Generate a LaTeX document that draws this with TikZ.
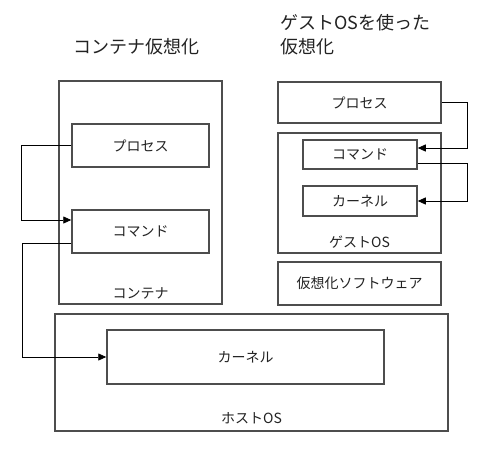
\documentclass[tikz,border=0pt]{standalone}
\usepackage{fontspec}
\setmainfont{Noto Sans CJK JP}
\usetikzlibrary{arrows.meta}
\definecolor{boxgray}{HTML}{4D4D4D}
\definecolor{txtgray}{HTML}{222222}
\tikzset{
    box/.style={draw=boxgray, line width=1.5pt, inner sep=0pt, font=\fontsize{14}{16}\selectfont, text=txtgray},
    lbl/.style={inner sep=0pt, font=\fontsize{14}{16}\selectfont, text=txtgray},
    titolo/.style={inner sep=0pt, font=\fontsize{18}{24}\selectfont, text=txtgray},
    conn/.style={line width=0.8pt, -{Triangle[length=8pt,width=7pt]}}
}
\begin{document}
\begin{tikzpicture}[x=1pt, y=-1pt]
            \useasboundingbox (0,0) rectangle (489,453);

            % Titoli
            \node[titolo] (tcont) at (136,47) {コンテナ仮想化};
            \node[titolo, anchor=west, align=left] (tguest) at (280,35) {ゲストOSを使った\\仮想化};

            % Container (sinistra)
            \node[box, minimum width=163pt, minimum height=223pt] (cont) at (140.5,192.5) {};
            \node[box, minimum width=137pt, minimum height=43pt] (procL) at (140.5,145.5) {プロセス};
            \node[box, minimum width=137pt, minimum height=43pt] (cmdL) at (140.5,231.5) {コマンド};
            \node[lbl] (contlbl) at (140.5,293) {コンテナ};

            % Host OS
            \node[box, minimum width=393pt, minimum height=117pt] (host) at (251.5,372.5) {};
            \node[box, minimum width=277pt, minimum height=54pt] (kernL) at (245.5,357) {カーネル};
            \node[lbl] (hostlbl) at (251.5,418) {ホストOS};

            % Guest OS (destra)
            \node[box, minimum width=163pt, minimum height=41pt] (procR) at (359.5,102.5) {プロセス};
            \node[box, minimum width=163pt, minimum height=120pt] (guest) at (359.5,193) {};
            \node[box, minimum width=114pt, minimum height=29pt] (cmdR) at (360,154.5) {コマンド};
            \node[box, minimum width=114pt, minimum height=30pt] (kernR) at (360,201) {カーネル};
            \node[lbl] (guestlbl) at (359.5,242) {ゲストOS};
            \node[box, minimum width=163pt, minimum height=43pt] (virt) at (359.5,283.5) {仮想化ソフトウェア};

            % Frecce sinistra
            \draw[conn] (procL.west) -- ++(-50,0) |- ([yshift=11.5pt]cmdL.west);
            \draw[conn] ([yshift=-11.5pt]cmdL.west) -- ++(-49,0) |- (kernL.west);

            % Frecce destra
            \draw[conn] (procR.east) -- ++(26,0) |- ([yshift=6.5pt]cmdR.east);
            \draw[conn] ([yshift=-8.5pt]cmdR.east) -- ++(50,0) |- (kernR.east);
\end{tikzpicture}
\end{document}
